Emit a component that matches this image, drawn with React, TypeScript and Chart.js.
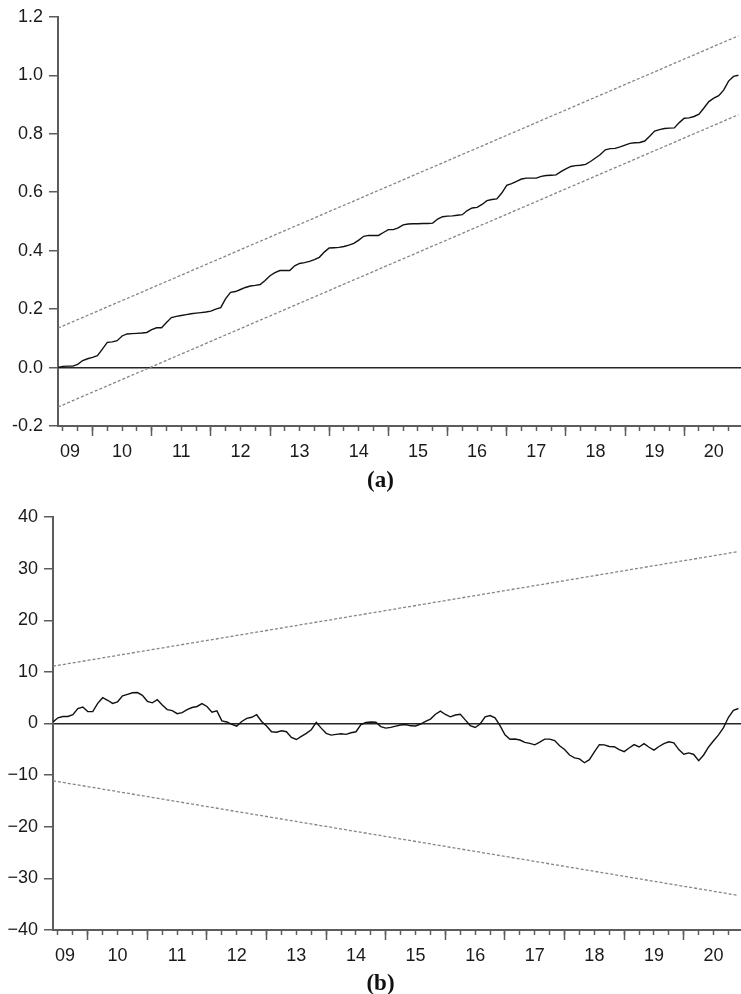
import React, { useEffect, useRef } from "react";
import { Chart, registerables } from "chart.js";

Chart.register(...registerables);

// ---- data ----
const START_YEAR = 2009;
const START_MONTH = 6; // first observation: 2009M06, monthly to 2020M12
const X_END = 2020.96;

const yearLabels = ["09", "10", "11", "12", "13", "14", "15", "16", "17", "18", "19", "20"];
const yearLabelPositions = [2009.62, 2010.5, 2011.5, 2012.5, 2013.5, 2014.5, 2015.5, 2016.5, 2017.5, 2018.5, 2019.5, 2020.5];
const yearTicks = [2010, 2011, 2012, 2013, 2014, 2015, 2016, 2017, 2018, 2019, 2020];

const cusumSqTicks = [-0.2, 0, 0.2, 0.4, 0.6, 0.8, 1.0, 1.2];
const cusumTicks = [-40, -30, -20, -10, 0, 10, 20, 30, 40];

// (a) CUSUM of squares
const cusumSq = [
  0, 0.004, 0.005, 0.005, 0.011, 0.024, 0.030, 0.035, 0.041, 0.063,
  0.086, 0.088, 0.092, 0.108, 0.115, 0.116, 0.117, 0.118, 0.120, 0.130,
  0.136, 0.136, 0.154, 0.171, 0.175, 0.178, 0.181, 0.184, 0.186, 0.188,
  0.190, 0.193, 0.200, 0.205, 0.236, 0.257, 0.260, 0.267, 0.274, 0.279,
  0.281, 0.284, 0.298, 0.314, 0.325, 0.332, 0.332, 0.332, 0.348, 0.356,
  0.359, 0.363, 0.369, 0.377, 0.395, 0.409, 0.410, 0.411, 0.414, 0.419,
  0.425, 0.436, 0.449, 0.452, 0.452, 0.452, 0.462, 0.472, 0.472, 0.478,
  0.488, 0.491, 0.492, 0.492, 0.493, 0.493, 0.494, 0.508, 0.516, 0.518,
  0.519, 0.521, 0.523, 0.537, 0.546, 0.548, 0.558, 0.571, 0.575, 0.577,
  0.597, 0.623, 0.629, 0.637, 0.645, 0.648, 0.648, 0.648, 0.654, 0.657,
  0.658, 0.659, 0.670, 0.680, 0.688, 0.691, 0.692, 0.695, 0.705, 0.717,
  0.729, 0.745, 0.749, 0.750, 0.755, 0.761, 0.767, 0.769, 0.770, 0.775,
  0.791, 0.809, 0.814, 0.818, 0.819, 0.820, 0.838, 0.853, 0.854, 0.859,
  0.867, 0.888, 0.910, 0.922, 0.930, 0.949, 0.980, 0.996, 1.0,
];
const cusumSqUpper = [0.135, 1.135];
const cusumSqLower = [-0.135, 0.865];

// (b) CUSUM
const cusum = [
  0.3, 1.1, 1.35, 1.35, 1.7, 2.9, 3.2, 2.3, 2.3, 3.9,
  5.0, 4.5, 3.9, 4.2, 5.35, 5.65, 5.95, 6.0, 5.45, 4.3,
  4.0, 4.6, 3.6, 2.7, 2.5, 1.9, 2.1, 2.7, 3.1, 3.3,
  3.85, 3.3, 2.2, 2.45, 0.5, 0.3, -0.15, -0.5, 0.4, 1.0,
  1.2, 1.7, 0.4, -0.5, -1.6, -1.7, -1.42, -1.6, -2.7, -3.1,
  -2.5, -1.9, -1.2, 0.2, -0.9, -1.9, -2.25, -2.1, -2.0, -2.1,
  -1.8, -1.6, -0.2, 0.19, 0.3, 0.25, -0.6, -0.9, -0.75, -0.5,
  -0.3, -0.2, -0.45, -0.48, -0.1, 0.4, 0.85, 1.8, 2.4, 1.75,
  1.3, 1.65, 1.8, 0.7, -0.4, -0.77, -0.1, 1.3, 1.55, 1.1,
  -0.4, -2.2, -3.05, -3.0, -3.2, -3.65, -3.85, -4.13, -3.6, -3.03,
  -3.03, -3.3, -4.3, -5.05, -6.1, -6.65, -6.85, -7.6, -7.0, -5.5,
  -4.1, -4.15, -4.45, -4.5, -5.05, -5.45, -4.75, -4.1, -4.55, -3.9,
  -4.6, -5.15, -4.45, -3.9, -3.55, -3.75, -5.05, -5.95, -5.7, -6.0,
  -7.2, -6.1, -4.55, -3.35, -2.2, -0.8, 1.2, 2.55, 2.9,
];
const cusumUpper = [11.1, 33.3];
const cusumLower = [-11.1, -33.3];

// ---- helpers ----
const monthX = (i: number) => START_YEAR + (START_MONTH - 1 + i) / 12;
const X_START = monthX(0);

const quarterTicks: number[] = [];
for (let y = START_YEAR; y <= 2020; y++) {
  for (let q = 0; q < 4; q++) {
    const v = y + q / 4;
    if (v > X_START && v < X_END) quarterTicks.push(v);
  }
}

const AXIS_COLOR = "#5c5c5c";
const TEXT_COLOR = "#1a1a1a";
const FONT = { family: "'Liberation Sans', Arial, sans-serif", size: 18 };

type PanelSpec = {
  series: number[];
  upper: number[];
  lower: number[];
  yTicks: number[];
  fmt: (v: number) => string;
  yAxisWidth: number;
  xAxisHeight: number;
  padTop: number;
};

function makeChart(canvas: HTMLCanvasElement, p: PanelSpec) {
  const n = p.series.length;
  const yMin = p.yTicks[0];
  const yMax = p.yTicks[p.yTicks.length - 1];
  const ends = (vals: number[]) => [
    { x: monthX(0), y: vals[0] },
    { x: monthX(n - 1), y: vals[1] },
  ];
  const dashed = {
    borderColor: "#858585",
    borderWidth: 1.3,
    borderDash: [3, 2],
    pointRadius: 0,
    fill: false,
    tension: 0,
    xAxisID: "x",
    yAxisID: "y",
  };
  return new Chart(canvas, {
    type: "line",
    data: {
      datasets: [
        {
          data: p.series.map((v, i) => ({ x: monthX(i), y: v })),
          borderColor: "#111111",
          borderWidth: 1.4,
          pointRadius: 0,
          fill: false,
          tension: 0,
          xAxisID: "x",
          yAxisID: "y",
        },
        { ...dashed, data: ends(p.upper) },
        { ...dashed, data: ends(p.lower) },
      ],
    },
    options: {
      responsive: false,
      maintainAspectRatio: false,
      animation: false,
      layout: { padding: { top: p.padTop, left: 0, right: 0, bottom: 0 } },
      plugins: { legend: { display: false }, tooltip: { enabled: false } },
      scales: {
        x: {
          type: "linear",
          axis: "x",
          position: "bottom",
          min: X_START,
          max: X_END,
          afterBuildTicks: (s: any) => {
            s.ticks = yearLabelPositions.map((v) => ({ value: v }));
          },
          afterFit: (s: any) => {
            s.height = p.xAxisHeight;
          },
          ticks: {
            autoSkip: false,
            maxRotation: 0,
            padding: 15,
            color: TEXT_COLOR,
            font: FONT,
            callback: (_v: any, i: number) => yearLabels[i],
          },
          grid: { drawOnChartArea: false, drawTicks: false },
          border: { display: true, color: AXIS_COLOR, width: 2 },
        },
        xq: {
          type: "linear",
          axis: "x",
          position: { y: yMin },
          min: X_START,
          max: X_END,
          afterBuildTicks: (s: any) => {
            s.ticks = quarterTicks.map((v) => ({ value: v }));
          },
          ticks: { display: false },
          grid: { drawOnChartArea: false, tickLength: 5, tickColor: AXIS_COLOR, tickWidth: 1.5 },
          border: { display: false },
        },
        xy: {
          type: "linear",
          axis: "x",
          position: { y: yMin },
          min: X_START,
          max: X_END,
          afterBuildTicks: (s: any) => {
            s.ticks = yearTicks.map((v) => ({ value: v }));
          },
          ticks: { display: false },
          grid: { drawOnChartArea: false, tickLength: 10, tickColor: AXIS_COLOR, tickWidth: 1.5 },
          border: { display: false },
        },
        y: {
          type: "linear",
          position: "left",
          min: yMin,
          max: yMax,
          afterBuildTicks: (s: any) => {
            s.ticks = p.yTicks.map((v) => ({ value: v }));
          },
          afterFit: (s: any) => {
            s.width = p.yAxisWidth;
          },
          ticks: {
            padding: 6,
            color: TEXT_COLOR,
            font: FONT,
            callback: (v: any) => p.fmt(Number(v)),
          },
          grid: {
            drawOnChartArea: true,
            color: (ctx: any) =>
              ctx.tick && Math.abs(ctx.tick.value) < 1e-9 ? "#262626" : "rgba(0,0,0,0)",
            lineWidth: 1.5,
            tickLength: 9,
            tickColor: AXIS_COLOR,
            tickWidth: 1.5,
          },
          border: { display: true, color: AXIS_COLOR, width: 2 },
        },
      },
    } as any,
  });
}

const fmtA = (v: number) => (Math.abs(v) < 1e-9 ? "0.0" : v.toFixed(1));
const fmtB = (v: number) => (v < 0 ? "\u2212" + String(Math.abs(v)) : String(v));

export default function App() {
  const refA = useRef<HTMLCanvasElement | null>(null);
  const refB = useRef<HTMLCanvasElement | null>(null);

  useEffect(() => {
    const a = makeChart(refA.current!, {
      series: cusumSq,
      upper: cusumSqUpper,
      lower: cusumSqLower,
      yTicks: cusumSqTicks,
      fmt: fmtA,
      yAxisWidth: 58,
      xAxisHeight: 44,
      padTop: 15,
    });
    const b = makeChart(refB.current!, {
      series: cusum,
      upper: cusumUpper,
      lower: cusumLower,
      yTicks: cusumTicks,
      fmt: fmtB,
      yAxisWidth: 53,
      xAxisHeight: 45,
      padTop: 17,
    });
    return () => {
      a.destroy();
      b.destroy();
    };
  }, []);

  const caption: React.CSSProperties = {
    position: "absolute",
    left: 330,
    width: 101,
    textAlign: "center",
    fontFamily: "'Liberation Serif', 'Times New Roman', serif",
    fontWeight: "bold",
    fontSize: 23,
    lineHeight: "23px",
    color: "#111",
  };

  return (
    <div
      style={{
        position: "absolute",
        left: 0,
        top: 0,
        width: 741,
        height: 994,
        overflow: "hidden",
        background: "#fff",
      }}
    >
      <canvas
        ref={refA}
        width={741}
        height={470}
        style={{ position: "absolute", left: 0, top: 0, width: 741, height: 470 }}
      />
      <div style={{ ...caption, top: 468 }}>(a)</div>
      <canvas
        ref={refB}
        width={741}
        height={475}
        style={{ position: "absolute", left: 0, top: 500, width: 741, height: 475 }}
      />
      <div style={{ ...caption, top: 971 }}>(b)</div>
    </div>
  );
}
